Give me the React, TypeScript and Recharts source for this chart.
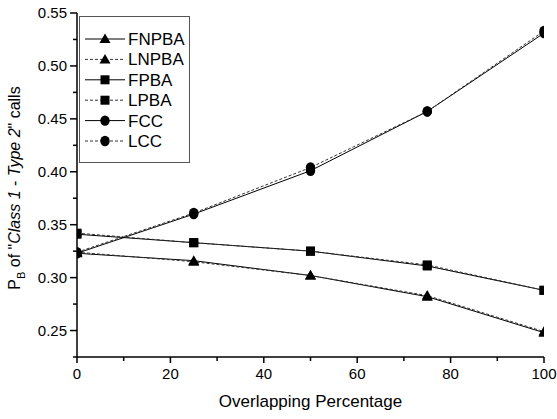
import React from "react";
import { LineChart, Line, XAxis, YAxis } from "recharts";

const overlap = [0, 25, 50, 75, 100];
const fnpba = [0.323, 0.316, 0.302, 0.282, 0.248];
const lnpba = [0.324, 0.315, 0.302, 0.283, 0.249];
const fpba = [0.341, 0.333, 0.325, 0.311, 0.288];
const lpba = [0.342, 0.333, 0.325, 0.312, 0.288];
const fcc = [0.323, 0.36, 0.401, 0.457, 0.531];
const lcc = [0.324, 0.361, 0.404, 0.457, 0.533];

const xTicks = [0, 10, 20, 30, 40, 50, 60, 70, 80, 90, 100];
const yTicks = [0.225, 0.25, 0.275, 0.3, 0.325, 0.35, 0.375, 0.4, 0.425, 0.45, 0.475, 0.5, 0.525, 0.55];

type Shape = "triangle" | "square" | "circle";
const series: { key: string; name: string; values: number[]; shape: Shape; dashed: boolean }[] = [
  { key: "fnpba", name: "FNPBA", values: fnpba, shape: "triangle", dashed: false },
  { key: "lnpba", name: "LNPBA", values: lnpba, shape: "triangle", dashed: true },
  { key: "fpba", name: "FPBA", values: fpba, shape: "square", dashed: false },
  { key: "lpba", name: "LPBA", values: lpba, shape: "square", dashed: true },
  { key: "fcc", name: "FCC", values: fcc, shape: "circle", dashed: false },
  { key: "lcc", name: "LCC", values: lcc, shape: "circle", dashed: true },
];

const data = overlap.map((x, i) => {
  const row: Record<string, number> = { x };
  series.forEach((s) => (row[s.key] = s.values[i]));
  return row;
});

const FONT = "'Liberation Sans', Arial, sans-serif";

function Marker({ cx, cy, shape }: { cx: number; cy: number; shape: Shape }) {
  if (cx == null || cy == null) return null;
  if (shape === "triangle")
    return <polygon points={`${cx},${cy - 5.5} ${cx + 5.5},${cy + 4} ${cx - 5.5},${cy + 4}`} fill="#000" />;
  if (shape === "square") return <rect x={cx - 4.5} y={cy - 4.5} width={9} height={9} fill="#000" />;
  return <ellipse cx={cx} cy={cy} rx={4.7} ry={5.2} fill="#000" />;
}

const makeDot = (shape: Shape) => (props: any) =>
  <Marker key={`${shape}-${props.index}-${props.dataKey}`} cx={props.cx} cy={props.cy} shape={shape} />;

function YTick(props: any) {
  const { x, y, payload } = props;
  const v = payload.value as number;
  const major = Math.round(v * 1000) % 50 === 0;
  return (
    <g>
      <line x1={x - (major ? 7 : 4)} x2={x} y1={y} y2={y} stroke="#000" strokeWidth={1.5} />
      {major && (
        <text x={x - 10} y={y} dy={5} textAnchor="end" fontSize={15} fontFamily={FONT} fill="#000">
          {v.toFixed(2)}
        </text>
      )}
    </g>
  );
}

function XTick(props: any) {
  const { x, y, payload } = props;
  const v = payload.value as number;
  const major = v % 20 === 0;
  return (
    <g>
      <line x1={x} x2={x} y1={y} y2={y + (major ? 6 : 4)} stroke="#000" strokeWidth={1.5} />
      {major && (
        <text x={x} y={y + 22} textAnchor="middle" fontSize={15} fontFamily={FONT} fill="#000">
          {v}
        </text>
      )}
    </g>
  );
}

function LegendBox() {
  return (
    <svg width={112} height={148} style={{ display: "block" }}>
      <rect x={0.5} y={0.5} width={110} height={146} fill="#fff" stroke="#555" strokeWidth={1} />
      {series.map((s, i) => {
        const y = 23 + i * 20.4;
        return (
          <g key={s.key}>
            <line x1={6} x2={46} y1={y} y2={y} stroke={s.dashed ? "#333" : "#000"} strokeWidth={1} strokeDasharray={s.dashed ? "3 2" : undefined} />
            <Marker cx={26} cy={y} shape={s.shape} />
            <text x={49} y={y + 6} fontSize={17} fontFamily={FONT} fill="#000">
              {s.name}
            </text>
          </g>
        );
      })}
    </svg>
  );
}

function YLabel(props: any) {
  const vb = props.viewBox || {};
  const cx = 20;
  const cy = (vb.y ?? 13) + (vb.height ?? 344) / 2 + 3;
  return (
    <text transform={`translate(${cx},${cy}) rotate(-90)`} textAnchor="middle" fontSize={16} fontFamily={FONT} fill="#000">
      <tspan>P</tspan>
      <tspan fontSize={11} dy={5}>B</tspan>
      <tspan dy={-5}> of "</tspan>
      <tspan fontStyle="italic">Class 1</tspan>
      <tspan> - </tspan>
      <tspan fontStyle="italic">Type 2</tspan>
      <tspan>" calls</tspan>
    </text>
  );
}

export default function App() {
  return (
    <div style={{ position: "absolute", left: 0, top: 0, width: 557, height: 419, background: "#fff" }}>
      <LineChart width={557} height={419} data={data} margin={{ top: 13, right: 13, bottom: 0, left: 0 }}>
        <XAxis
          xAxisId="b"
          dataKey="x"
          type="number"
          domain={[0, 100]}
          ticks={xTicks}
          allowDataOverflow
          interval={0}
          height={62}
          tickSize={0}
          tickMargin={0}
          tickLine={false}
          axisLine={{ stroke: "#000", strokeWidth: 1.5 }}
          tick={<XTick />}
          label={{ value: "Overlapping Percentage", position: "insideBottom", offset: 12, fontSize: 17, fontFamily: FONT, fill: "#000" }}
        />
        <XAxis xAxisId="t" dataKey="x" type="number" domain={[0, 100]} orientation="top" height={0} tick={false} tickLine={false} axisLine={{ stroke: "#333", strokeWidth: 1.5 }} />
        <YAxis
          yAxisId="l"
          type="number"
          domain={[0.225, 0.55]}
          ticks={yTicks}
          allowDataOverflow
          interval={0}
          width={77}
          tickSize={0}
          tickMargin={0}
          tickLine={false}
          axisLine={{ stroke: "#000", strokeWidth: 1.5 }}
          tick={<YTick />}
          label={<YLabel />}
        />
        <YAxis yAxisId="r" type="number" domain={[0.225, 0.55]} orientation="right" width={0} tick={false} tickLine={false} axisLine={{ stroke: "#000", strokeWidth: 1.5 }} />
        {series.map((s) => (
          <Line
            key={s.key}
            xAxisId="b"
            yAxisId="l"
            dataKey={s.key}
            name={s.name}
            stroke={s.dashed ? "#333" : "#000"}
            strokeWidth={1}
            strokeDasharray={s.dashed ? "3 2" : undefined}
            dot={makeDot(s.shape)}
            activeDot={false}
            isAnimationActive={false}
            type="linear"
          />
        ))}
      </LineChart>
      <div style={{ position: "absolute", left: 79, top: 16 }}>
        <LegendBox />
      </div>
    </div>
  );
}
